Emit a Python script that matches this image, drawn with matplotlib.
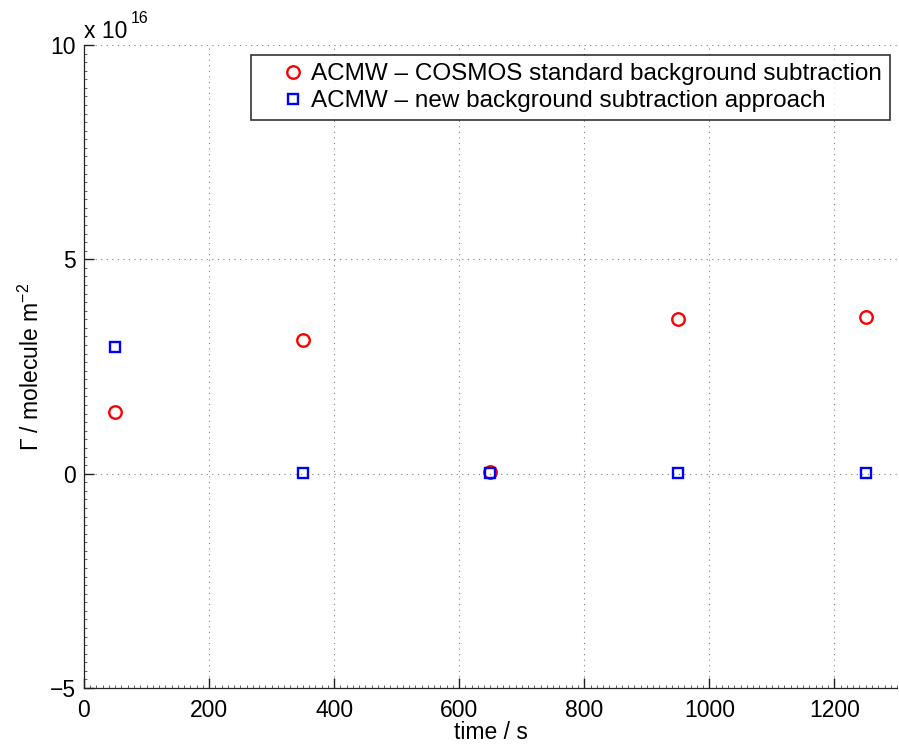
import matplotlib
matplotlib.use("Agg")
import matplotlib.pyplot as plt
from matplotlib.ticker import MultipleLocator, FixedLocator

plt.rcParams['font.family'] = ['Liberation Sans', 'DejaVu Sans']
plt.rcParams['mathtext.fontset'] = 'custom'
plt.rcParams['mathtext.rm'] = 'Liberation Sans'
plt.rcParams['mathtext.it'] = 'Liberation Sans:italic'
plt.rcParams['mathtext.default'] = 'regular'

# Datos
tiempo = [50, 350, 650, 950, 1250]
gamma_cosmos = [1.44e16, 3.12e16, 0.04e16, 3.61e16, 3.66e16]
gamma_nuevo = [2.96e16, 0.02e16, 0.02e16, 0.01e16, 0.01e16]
etiquetas = ["ACMW \u2013 COSMOS standard background subtraction",
             "ACMW \u2013 new background subtraction approach"]

escala = 1e16

fig = plt.figure(figsize=(8.99, 7.44), dpi=100)
ax = fig.add_axes([0.0934, 0.0753, 0.9044, 0.8642])

ax.plot(tiempo, [g / escala for g in gamma_cosmos], linestyle='none', marker='o',
        markersize=9, markerfacecolor='none', markeredgecolor='red', markeredgewidth=1.7,
        label=etiquetas[0])
ax.plot(tiempo, [g / escala for g in gamma_nuevo], linestyle='none', marker='s',
        markersize=7.5, markerfacecolor='none', markeredgecolor='blue', markeredgewidth=1.7,
        label=etiquetas[1])

ax.set_xlim(0, 1300)
ax.set_ylim(-5, 10)
ax.xaxis.set_major_locator(FixedLocator([0, 200, 400, 600, 800, 1000, 1200]))
ax.xaxis.set_minor_locator(MultipleLocator(10))
ax.yaxis.set_major_locator(MultipleLocator(5))
ax.yaxis.set_minor_locator(MultipleLocator(0.2))

ax.spines['top'].set_visible(False)
ax.spines['right'].set_visible(False)
for s in ['left', 'bottom']:
    ax.spines[s].set_linewidth(0.9)
    ax.spines[s].set_color('#222222')
ax.tick_params(which='both', direction='in', labelsize=16.5, color='#222222')
ax.tick_params(axis='x', which='major', pad=8)
ax.tick_params(axis='y', which='major', pad=6)
ax.tick_params(which='major', length=7, width=1)
ax.tick_params(which='minor', length=2.5, width=0.5)
ax.grid(True, which='major', linestyle=(0, (1, 4)), color='gray', linewidth=0.8)

ax.set_xlabel("time / s", fontsize=16.5, labelpad=-1)
ax.set_ylabel("\u0393 / molecule m$^{-2}$", fontsize=16.5, labelpad=4)

# factor de escala del eje y
fig.text(84 / 899, 1 - 38 / 744, "x 10", fontsize=16.5, va='baseline', ha='left')
fig.text(131 / 899, 1 - 23 / 744, "16", fontsize=11.5, va='baseline', ha='left')

leg = ax.legend(loc='upper right', fontsize=17.5, frameon=True, fancybox=False,
                edgecolor='black', borderpad=0.33, handlelength=2.75, handletextpad=-0.63,
                labelspacing=0.2, borderaxespad=0.0,
                bbox_to_anchor=(0.991, 0.984))
leg.get_frame().set_linewidth(1.2)

plt.savefig("out.png", dpi=100)
